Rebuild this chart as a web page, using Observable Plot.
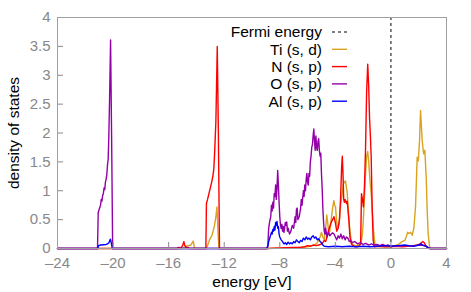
<!DOCTYPE html>
<html>
<head>
<meta charset="utf-8">
<script src="https://cdn.jsdelivr.net/npm/d3@7"></script>
<script src="https://cdn.jsdelivr.net/npm/@observablehq/plot@0.6"></script>
<style>
  html, body { margin: 0; padding: 0; background: #fff; }
</style>
</head>
<body>
<div id="chart"></div>
<script>
// Projected density of states, energies relative to the Fermi level (eV)
const xTicks = [-24, -20, -16, -12, -8, -4, 0, 4];
const yTicks = [0, 0.5, 1, 1.5, 2, 2.5, 3, 3.5, 4];
const fermiEnergy = [0];

// Ti (s, d)
const tiEnergy = [-24, -15.0, -14.8, -14.6, -14.4, -14.3, -14.23, -14.15, -14.1, -13.3, -13.2, -13.1, -13.0, -12.9, -12.8, -12.7, -12.6, -12.52, -12.45, -12.38,
  -8.9, -7.0, -6.5, -6.0, -5.5, -5.3, -5.2, -5.1, -5.0, -4.9, -4.8, -4.7, -4.62, -4.55, -4.47, -4.4, -4.3, -4.2, -4.11, -4.05, -3.99, -3.9, -3.85, -3.75, -3.68, -3.6, -3.5, -3.44, -3.35, -3.27, -3.2, -3.15, -3.05, -2.95, -2.85, -2.7, -2.5, -2.3, -2.15, -2.05, -1.95, -1.85, -1.75, -1.67, -1.6, -1.5, -1.42, -1.35, -1.25, -1.15, -1.0, -0.5, 0,
  0.3, 0.6, 0.8, 1.0, 1.1, 1.2, 1.3, 1.41, 1.53, 1.65, 1.77, 1.89, 1.97, 2.06, 2.13, 2.25, 2.35, 2.44, 2.54, 2.61, 2.68, 2.78, 2.85, 4];
const tiDos = [0, 0, 0.03, 0.05, 0.06, 0.1, 0.13, 0.02, 0, 0, 0.05, 0.12, 0.18, 0.22, 0.3, 0.4, 0.55, 0.72, 0.3, 0,
  0, 0.01, 0.02, 0.03, 0.06, 0.1, 0.15, 0.2, 0.28, 0.2, 0.15, 0.35, 0.58, 0.45, 0.25, 0.3, 0.5, 0.7, 0.83, 0.75, 0.72, 0.45, 0.37, 0.4, 0.6, 0.8, 0.95, 1.1, 1.15, 1.17, 1.05, 0.98, 0.6, 0.3, 0.12, 0.06, 0.05, 0.06, 0.1, 0.25, 0.65, 1.2, 1.6, 1.68, 1.5, 1.15, 0.95, 0.69, 0.3, 0.08, 0.04, 0.03, 0.04,
  0.05, 0.08, 0.12, 0.14, 0.2, 0.28, 0.26, 0.28, 0.23, 0.35, 0.72, 1.58, 1.52, 1.87, 2.39, 1.87, 1.64, 1.7, 1.23, 0.66, 0.26, 0.03, 0, 0];

// N (s, p)
const nEnergy = [-24, -15.4, -15.3, -15.1, -15.0, -14.9, -14.85, -14.75, -14.6, -14.5, -13.32, -13.28, -13.2, -13.1, -13.0, -12.9, -12.8, -12.75, -12.7, -12.6, -12.5, -12.42, -12.34,
  -8.9, -8.0, -7.0, -6.5, -6.2, -6.0, -5.8, -5.6, -5.4, -5.2, -5.0, -4.9, -4.8, -4.7, -4.6, -4.5, -4.4, -4.3, -4.2, -4.1, -4.0, -3.9, -3.8, -3.7, -3.62, -3.55, -3.5, -3.45, -3.4, -3.35, -3.3, -3.2, -3.15, -3.1, -3.03, -2.95, -2.85, -2.7, -2.5, -2.3, -2.18, -2.12, -2.05, -1.98, -1.9, -1.83, -1.75, -1.67, -1.6, -1.54, -1.47, -1.42, -1.35, -1.28, -1.2,
  -0.8, -0.4, 0, 0.4, 0.8, 1.2, 1.6, 1.9, 2.1, 2.3, 2.4, 2.5, 2.7, 2.8, 4];
const nDos = [0, 0, 0.02, 0.01, 0.05, 0.12, 0.06, 0.02, 0.02, 0, 0, 0.78, 0.85, 0.95, 1.05, 1.15, 1.28, 1.38, 1.6, 2.2, 3.5, 2.0, 0,
  0, 0.01, 0.02, 0.02, 0.03, 0.05, 0.04, 0.06, 0.05, 0.06, 0.08, 0.1, 0.14, 0.12, 0.2, 0.3, 0.38, 0.45, 0.5, 0.55, 0.45, 0.3, 0.35, 0.5, 0.9, 1.4, 1.6, 1.3, 0.85, 0.8, 0.85, 0.78, 0.82, 0.7, 0.5, 0.2, 0.08, 0.04, 0.03, 0.04, 0.08, 0.95, 0.85, 0.72, 1.1, 1.7, 2.7, 3.19, 2.8, 2.27, 1.9, 1.58, 0.7, 0.15, 0.03,
  0.04, 0.03, 0.03, 0.04, 0.03, 0.04, 0.05, 0.06, 0.08, 0.12, 0.1, 0.05, 0.01, 0, 0];

// O (s, p)
const oEnergy = [-24, -21.12, -21.07, -21.0, -20.9, -20.85, -20.8, -20.75, -20.7, -20.65, -20.6, -20.55, -20.5, -20.45, -20.4, -20.35, -20.3, -20.25, -20.18, -20.1, -20.03,
  -8.9, -8.86, -8.8, -8.72, -8.65, -8.6, -8.55, -8.5, -8.45, -8.4, -8.35, -8.3, -8.25, -8.2, -8.15, -8.1, -8.05, -8.0, -7.95, -7.9, -7.85, -7.8, -7.75, -7.7, -7.6, -7.55, -7.5, -7.45, -7.4, -7.3, -7.2, -7.1, -7.0,
  -6.9, -6.85, -6.8, -6.75, -6.7, -6.6, -6.5, -6.45, -6.4, -6.3, -6.25, -6.2, -6.15, -6.1, -6.05, -6.0, -5.95, -5.9, -5.85, -5.8, -5.75, -5.7, -5.65, -5.6, -5.55, -5.5, -5.45, -5.4, -5.35, -5.3, -5.25, -5.2, -5.15, -5.1, -5.05, -5.0, -4.95, -4.9, -4.85, -4.8, -4.75, -4.7, -4.6, -4.5, -4.4, -4.3, -4.2, -4.1, -4.0,
  -3.9, -3.8, -3.7, -3.6, -3.5, -3.4, -3.3, -3.2, -3.1, -3.0, -2.9, -2.8, -2.6, -2.4, -2.2, -2.0, -1.8, -1.6, -1.4, -1.2, -1.0, -0.8, -0.6, -0.4, -0.2, 0, 0.3, 0.6, 1.0, 1.4, 1.8, 2.2, 2.5, 2.7, 2.8, 4];
const oDos = [0, 0, 0.62, 0.68, 0.75, 0.85, 0.82, 0.92, 0.95, 1.05, 1.02, 1.15, 1.2, 1.28, 1.45, 1.55, 2.0, 2.6, 3.61, 1.8, 0,
  0, 0.05, 0.35, 0.48, 0.55, 0.75, 0.65, 0.8, 0.7, 0.95, 0.9, 1.1, 0.85, 1.05, 1.35, 1.1, 0.8, 0.55, 0.4, 0.35, 0.42, 0.3, 0.38, 0.28, 0.45, 0.4, 0.46, 0.3, 0.35, 0.25, 0.3, 0.4, 0.35,
  0.55, 0.45, 0.68, 0.7, 0.5, 0.55, 0.7, 0.85, 0.75, 1.0, 0.9, 1.1, 1.0, 1.2, 1.3, 1.15, 1.1, 1.3, 1.25, 1.5, 1.6, 1.75, 1.8, 1.95, 2.07, 1.85, 1.7, 1.95, 1.75, 1.7, 1.85, 1.9, 1.7, 1.6, 1.65, 1.3, 1.05, 0.7, 0.46, 0.3, 0.25, 0.35, 0.2, 0.28, 0.22, 0.25, 0.27, 0.25, 0.2,
  0.15, 0.22, 0.18, 0.25, 0.17, 0.22, 0.15, 0.2, 0.18, 0.12, 0.14, 0.1, 0.12, 0.08, 0.1, 0.07, 0.09, 0.06, 0.08, 0.06, 0.07, 0.05, 0.07, 0.05, 0.06, 0.04, 0.05, 0.04, 0.05, 0.04, 0.05, 0.06, 0.04, 0.01, 0, 0];

// Al (s, p)
const alEnergy = [-24, -21.1, -21.05, -20.9, -20.7, -20.5, -20.4, -20.3, -20.2, -20.15, -20.05,
  -8.95, -8.85, -8.8, -8.7, -8.6, -8.55, -8.5, -8.45, -8.4, -8.35, -8.3, -8.25, -8.2, -8.15, -8.1, -8.05, -8.0, -7.9, -7.8, -7.7, -7.6, -7.5, -7.4, -7.3, -7.2, -7.1, -7.0,
  -6.9, -6.8, -6.7, -6.6, -6.5, -6.4, -6.3, -6.2, -6.1, -6.0, -5.9, -5.8, -5.7, -5.6, -5.5, -5.4, -5.3, -5.2, -5.1, -5.0, -4.9, -4.8, -4.5, -4.0, -3.5, -3.0, -2.5, -2.0, -1.5, -1.0, -0.5, 0,
  0.5, 1.0, 1.3, 1.7, 2.0, 2.15, 2.3, 2.5, 2.7, 2.8, 4];
const alDos = [0, 0, 0.05, 0.06, 0.065, 0.07, 0.08, 0.1, 0.16, 0.12, 0,
  0, 0.05, 0.12, 0.2, 0.28, 0.25, 0.33, 0.3, 0.38, 0.32, 0.45, 0.4, 0.47, 0.35, 0.38, 0.25, 0.2, 0.15, 0.12, 0.08, 0.1, 0.07, 0.11, 0.08, 0.1, 0.08, 0.12,
  0.1, 0.15, 0.12, 0.1, 0.14, 0.12, 0.18, 0.15, 0.2, 0.16, 0.18, 0.15, 0.2, 0.22, 0.18, 0.2, 0.15, 0.17, 0.12, 0.1, 0.06, 0.04, 0.03, 0.04, 0.03, 0.04, 0.03, 0.04, 0.03, 0.04, 0.05, 0.04,
  0.05, 0.06, 0.05, 0.04, 0.06, 0.08, 0.06, 0.04, 0.01, 0, 0];

const series = [
  {name: "Ti (s, d)", color: "#d9a21f", energy: tiEnergy, dos: tiDos},
  {name: "N (s, p)", color: "#ff0000", energy: nEnergy, dos: nDos},
  {name: "O (s, p)", color: "#9400a8", energy: oEnergy, dos: oDos},
  {name: "Al (s, p)", color: "#0000ff", energy: alEnergy, dos: alDos}
];

const font = "'Liberation Sans', Arial, Helvetica, sans-serif";
const axisGray = "#888888";

const plot = Plot.plot({
  width: 471,
  height: 292,
  marginLeft: 57,
  marginRight: 25,
  marginTop: 17,
  marginBottom: 44,
  style: {fontFamily: font, fontSize: "15px", background: "#fff", color: "#000"},
  x: {domain: [-24, 4]},
  y: {domain: [0, 4]},
  marks: [
    Plot.ruleX(fermiEnergy, {stroke: "#000", strokeWidth: 1, strokeDasharray: "3,3"}),
    ...series.map(s => Plot.line(s.energy.map((e, i) => ({e, d: s.dos[i]})), {x: "e", y: "d", stroke: s.color, strokeWidth: 1.4})),
    Plot.axisX({ticks: xTicks, tickSize: -6, tickPadding: 15, stroke: axisGray, fill: axisGray, tickFormat: d => d < 0 ? "\u2013" + Math.abs(d) : String(d), label: null}),
    Plot.axisY({ticks: yTicks, tickSize: -6, tickPadding: 13, stroke: axisGray, fill: axisGray, tickFormat: d => String(d), label: null}),
    Plot.frame({stroke: "#a0a0a0", strokeWidth: 1})
  ]
});

const svg = d3.select(plot);
// axis titles
svg.append("text")
  .attr("x", 252).attr("y", 286.5)
  .attr("text-anchor", "middle")
  .attr("font-family", font).attr("font-size", 15.5)
  .attr("fill", "#000")
  .text("energy [eV]");
svg.append("text")
  .attr("transform", "translate(19,133) rotate(-90)")
  .attr("text-anchor", "middle")
  .attr("font-family", font).attr("font-size", 15.5)
  .attr("fill", "#000")
  .text("density of states");

// key
const legendItems = [{name: "Fermi energy", color: "#000", dash: "3,3"}, ...series.map(s => ({name: s.name, color: s.color, dash: null}))];
const key = svg.append("g").attr("font-family", font).attr("font-size", 15.5);
legendItems.forEach((item, i) => {
  const cy = 32 + i * 17.3;
  key.append("text")
    .attr("x", 322).attr("y", cy).attr("dy", "0.35em")
    .attr("text-anchor", "end").attr("fill", "#000")
    .text(item.name);
  key.append("line")
    .attr("x1", 332).attr("x2", 347).attr("y1", cy).attr("y2", cy)
    .attr("stroke", item.color).attr("stroke-width", item.dash ? 1 : 1.4)
    .attr("stroke-dasharray", item.dash);
});

document.getElementById("chart").appendChild(plot);
</script>
</body>
</html>
